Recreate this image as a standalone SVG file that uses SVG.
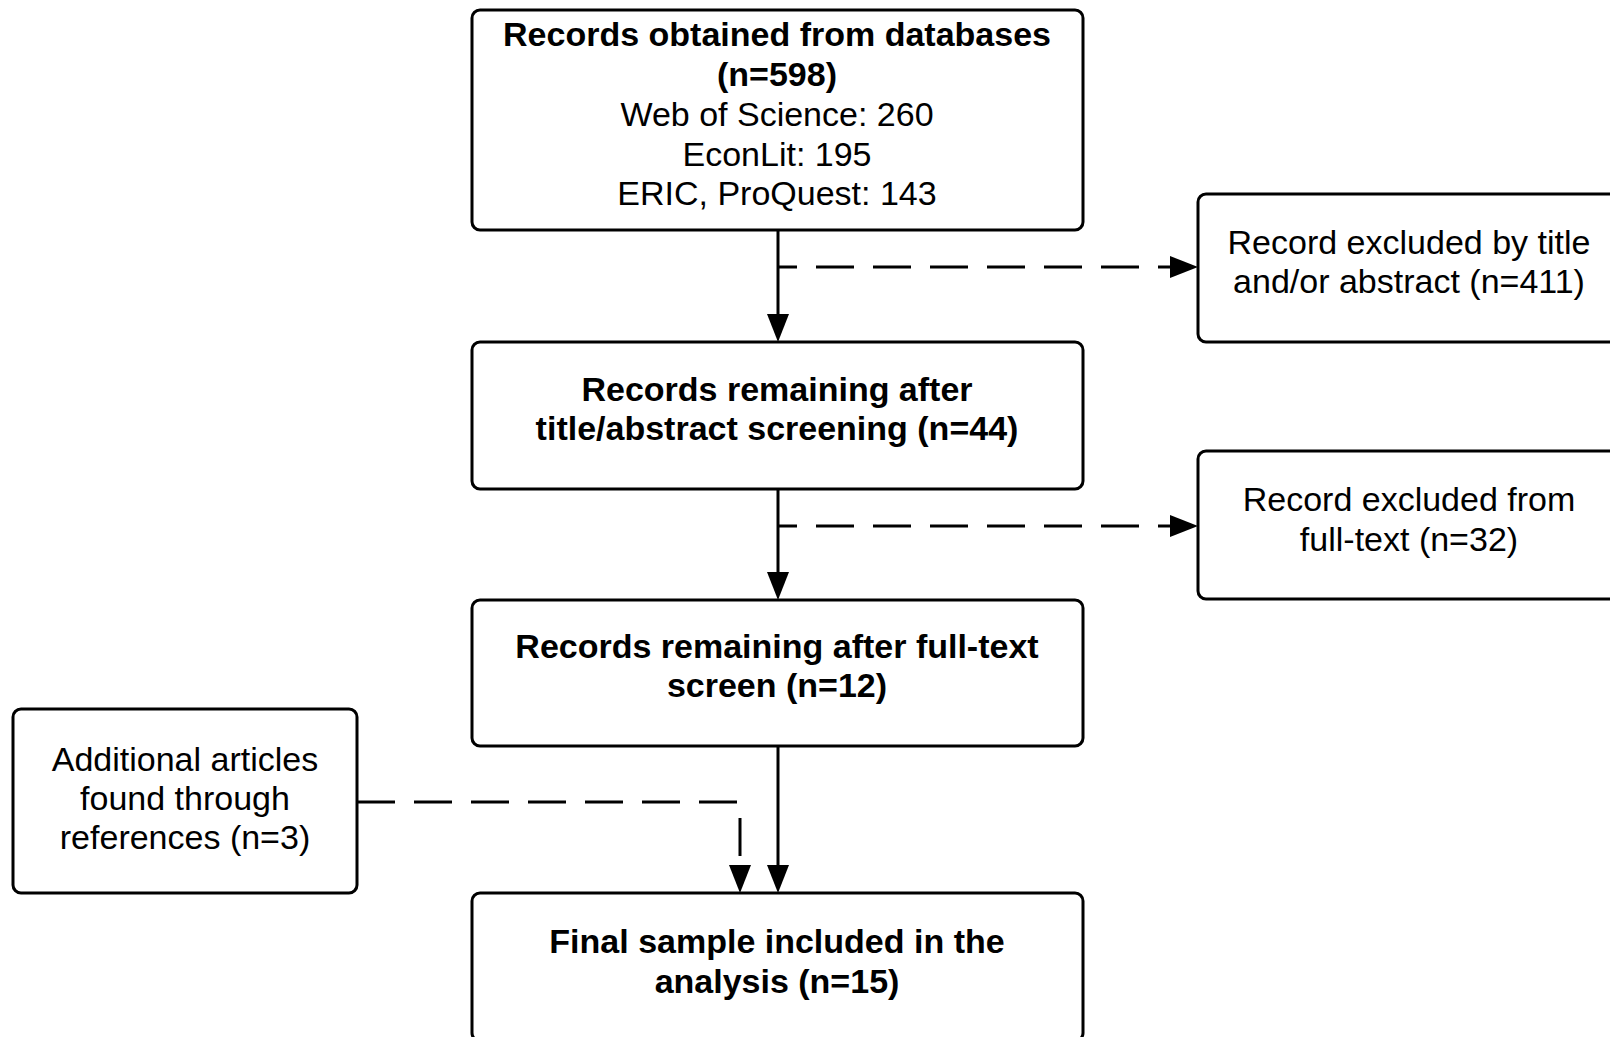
<svg xmlns="http://www.w3.org/2000/svg" width="1610" height="1037" viewBox="0 0 1610 1037">
<style>
.box{fill:#fff;stroke:#000;stroke-width:3}
.t{font-family:"Liberation Sans",Arial,sans-serif;font-size:34px;fill:#000;text-anchor:middle}
.b{font-weight:bold}
.solid{fill:none;stroke:#000;stroke-width:3}
.dash{fill:none;stroke:#000;stroke-width:3;stroke-dasharray:38 19}
</style>
<defs>
<marker id="arr" markerUnits="userSpaceOnUse" markerWidth="30" markerHeight="24" refX="0" refY="11" orient="auto" viewBox="0 0 30 22">
<path d="M0,0 L28,11 L0,22 z" fill="#000"/>
</marker>
</defs>
<rect width="1610" height="1037" fill="#fff"/>
<g id="connectors">
<path class="solid" d="M778,230 V314" marker-end="url(#arr)"/>
<path class="dash" d="M778,267 H1170" stroke-dashoffset="19" marker-end="url(#arr)"/>
<path class="solid" d="M778,489 V572" marker-end="url(#arr)"/>
<path class="dash" d="M778,526 H1170" stroke-dashoffset="19" marker-end="url(#arr)"/>
<path class="solid" d="M778,746 V865" marker-end="url(#arr)"/>
<path class="dash" d="M357,802 H740 V865" marker-end="url(#arr)"/>
</g>
<g id="n1">
<rect class="box" x="472" y="10" width="611" height="220" rx="8"/>
<text class="t b" x="777" y="46">Records obtained from databases</text>
<text class="t b" x="777" y="86">(n=598)</text>
<text class="t" x="777" y="126">Web of Science: 260</text>
<text class="t" x="777" y="165.5">EconLit: 195</text>
<text class="t" x="777" y="205">ERIC, ProQuest: 143</text>
</g>
<g id="n2">
<rect class="box" x="472" y="342" width="611" height="147" rx="8"/>
<text class="t b" x="777" y="401">Records remaining after</text>
<text class="t b" x="777" y="440">title/abstract screening (n=44)</text>
</g>
<g id="n3">
<rect class="box" x="472" y="600" width="611" height="146" rx="8"/>
<text class="t b" x="777" y="658">Records remaining after full-text</text>
<text class="t b" x="777" y="697">screen (n=12)</text>
</g>
<g id="n4">
<rect class="box" x="472" y="893" width="611" height="148" rx="8"/>
<text class="t b" x="777" y="953">Final sample included in the</text>
<text class="t b" x="777" y="993">analysis (n=15)</text>
</g>
<g id="r1">
<rect class="box" x="1198" y="194" width="430" height="148" rx="8"/>
<text class="t" x="1409" y="254">Record excluded by title</text>
<text class="t" x="1409" y="293">and/or abstract (n=411)</text>
</g>
<g id="r2">
<rect class="box" x="1198" y="451" width="430" height="148" rx="8"/>
<text class="t" x="1409" y="511">Record excluded from</text>
<text class="t" x="1409" y="551">full-text (n=32)</text>
</g>
<g id="l1">
<rect class="box" x="13" y="709" width="344" height="184" rx="8"/>
<text class="t" x="185" y="771">Additional articles</text>
<text class="t" x="185" y="810">found through</text>
<text class="t" x="185" y="849">references (n=3)</text>
</g>
</svg>
